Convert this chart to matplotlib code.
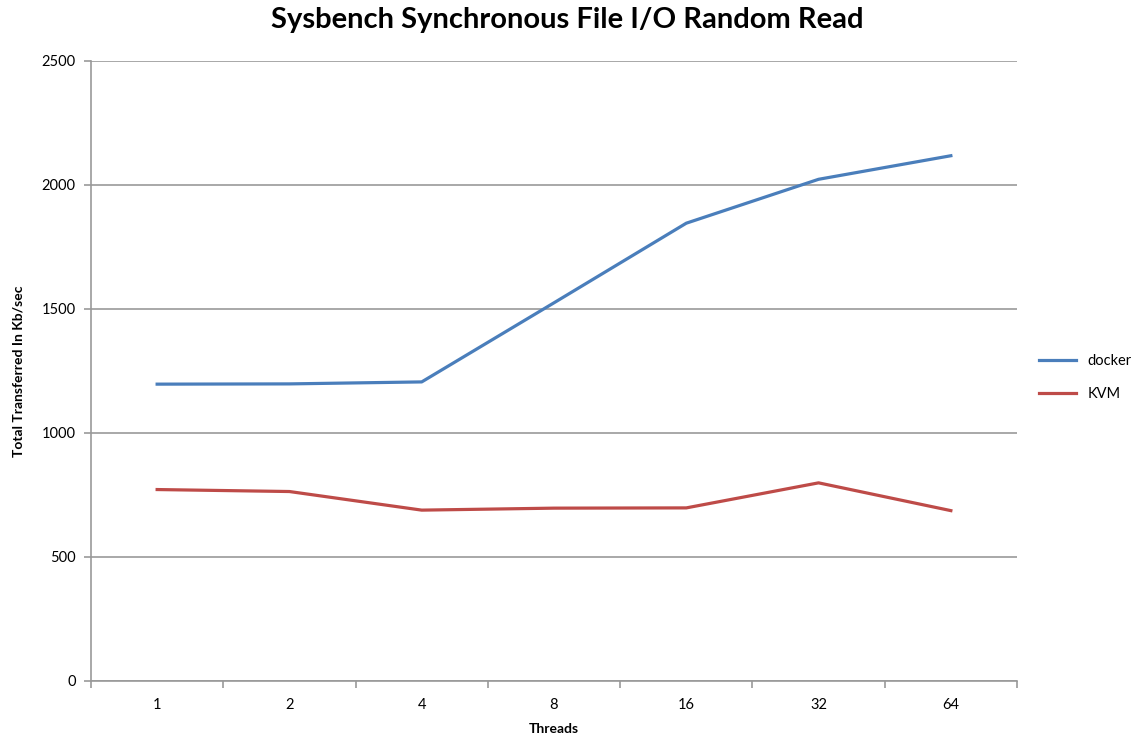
import matplotlib.pyplot as plt
import numpy as np

# Data
threads = ["1", "2", "4", "8", "16", "32", "64"]
docker = [1197, 1198, 1206, 1525, 1846, 2023, 2118]
kvm = [772, 764, 689, 697, 698, 799, 687]

plt.rcParams['font.family'] = ['Lato', 'DejaVu Sans']

fig = plt.figure(figsize=(11.32, 7.39), dpi=100)
ax = fig.add_axes([91 / 1132, 1 - 681 / 739, 926 / 1132, 620 / 739])

x = np.arange(len(threads))
ax.plot(x, docker, color="#4A7EBB", linewidth=2.3, label="docker")
ax.plot(x, kvm, color="#BE4B48", linewidth=2.3, label="KVM")

ax.set_xlim(-0.5, len(threads) - 0.5)
ax.set_ylim(0, 2500)
ax.set_yticks(range(0, 2501, 500))
ax.yaxis.grid(True, color="#999999", linewidth=1.2)
ax.set_axisbelow(True)

# category labels centred, tick marks at the boundaries
ax.set_xticks(x)
ax.set_xticklabels(threads, fontsize=10.5)
ax.set_xticks(np.arange(-0.5, len(threads)), minor=True)
ax.tick_params(axis="x", which="major", length=0, pad=12)
ax.tick_params(axis="x", which="minor", length=5, color="#999999", width=1.2)
ax.tick_params(axis="y", length=5, color="#999999", width=1.2, labelsize=10.5, pad=6)

for side in ["top", "right"]:
    ax.spines[side].set_visible(False)
for side in ["left", "bottom"]:
    ax.spines[side].set_color("#999999")
    ax.spines[side].set_linewidth(1.2)

ax.set_xlabel("Threads", fontsize=10, fontweight="bold", labelpad=8)
ax.set_ylabel("Total Transferred In Kb/sec", fontsize=10, fontweight="bold", labelpad=12)
fig.suptitle("Sysbench Synchronous File I/O Random Read", fontsize=21,
             fontweight="bold", x=567 / 1132, y=0.99)

ax.legend(loc="center left", bbox_to_anchor=(1.01, 0.49), frameon=False,
          fontsize=10.5, handlelength=2.5, labelspacing=1.3)

fig.savefig("out.png", dpi=100)
